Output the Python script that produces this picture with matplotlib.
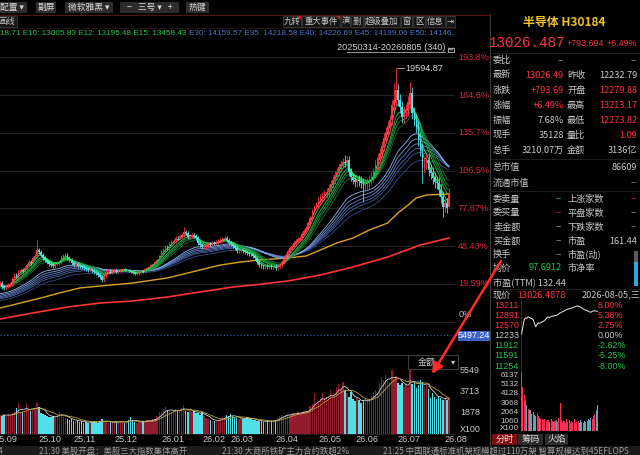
import numpy as np
import pandas as pd
import matplotlib
matplotlib.use("Agg")
import matplotlib.pyplot as plt
from matplotlib import transforms
from matplotlib.patches import Rectangle, Arc, Polygon

plt.rcParams['font.family'] = ['Noto Sans CJK SC', 'DejaVu Sans']

# ── Data ────────────────────────────────────────────────────────────────────
month_labels = ["25.09", "25.10", "25.11", "25.12", "26.01", "26.02",
                "26.03", "26.04", "26.05", "26.06", "26.07", "26.08"]
month_days = [22, 17, 20, 23, 20, 14, 22, 21, 18, 21, 23, 3]

# sessions before the visible window (only used to warm up the EMAs)
lead_closes = [6480, 6530, 6510, 6590, 6650, 6620, 6700, 6760, 6740, 6820,
               6880, 6850, 6930, 7000, 6980, 7060, 7120, 7090, 7180, 7250,
               7220, 7300, 7380, 7350, 7440, 7500, 7470, 7560, 7640, 7610,
               7700, 7780, 7750, 7840, 7920, 7890, 7980, 8060, 8150, 8240]

close_sep = [8319, 8160, 8213, 8266, 8055, 8002, 8108, 8160, 8213, 8477, 8688,
             8635, 8846, 8952, 8899, 9057, 9215, 9374, 9321, 9585, 9690, 10007]
close_oct = [9901, 9743, 9585, 9479, 9374, 9268, 9215, 9163, 9268, 9321, 9374,
             9637, 9690, 9743, 9585, 9479, 9321]
close_nov = [9215, 9268, 9163, 9150, 9110, 9057, 9004, 8952, 8970, 8899, 8846,
             8793, 8688, 8582, 8424, 8635, 8846, 8899, 8846, 8899]
close_dec = [8952, 8846, 8899, 8952, 9004, 8952, 8960, 8899, 8846, 8793, 8741,
             8750, 8846, 8899, 8880, 9004, 9057, 9110, 9215, 9268, 9374, 9479, 9690]
close_jan = [9901, 10007, 10165, 10140, 10323, 10429, 10481, 10640, 10620, 10745,
             10798, 10956, 10903, 10692, 10745, 10798, 10745, 10640, 10376, 10270]
close_feb = [10165, 10180, 10218, 10323, 10310, 10376, 10360, 10429, 10481, 10534,
             10587, 10640, 10534, 10376]
close_mar = [10323, 10218, 10112, 9954, 9970, 10007, 9954, 9901, 9848, 9796, 9780,
             9690, 9585, 9374, 9215, 9163, 9110, 9163, 9110, 9163, 9110, 9130]
close_apr = [9057, 9163, 9215, 9374, 9585, 9743, 9954, 10112, 10218, 10376, 10481,
             10587, 10640, 10851, 11009, 11167, 11431, 11695, 12064, 12275, 12433]
close_may = [12591, 12750, 12855, 12961, 13066, 13277, 13488, 13699, 13963, 14121,
             14385, 14543, 14649, 14596, 14754, 14121, 13857, 13699]
close_jun = [13594, 13699, 13646, 13541, 13383, 13488, 13541, 13699, 13857, 14068,
             14490, 14860, 15123, 15493, 15915, 16231, 16548, 16864, 17655, 17919, 18447]
close_jul = [17919, 17550, 17022, 17286, 17392, 17814, 18288, 17233, 16864, 16495,
             15810, 15282, 14385, 14596, 14754, 14227, 14068, 13805, 13594, 13541,
             13172, 12802, 12275]
close_aug = [12486, 12232.79, 13026.49]

last_open, last_high, last_low = 12279.88, 13213.17, 12273.82
wick_by_month = [110, 110, 80, 70, 110, 100, 90, 120, 200, 260, 330, 250]
spike_highs = {21: 10534, 93: 11220, 172: 15018, 196: 18816, 197: 19594.87, 204: 18869}
spike_lows = {181: 12539, 210: 13541, 220: 11747}

volumes = [1600, 1550, 1700, 1650, 1500, 1620, 1600, 1700, 1580, 1750, 1900,
           2200, 2660, 1900, 1850, 2000, 2650, 2100, 1950, 2050, 2200, 2700,
           2300, 1800, 1700, 1650, 1500, 1450, 1400, 1500, 1450, 1600, 1900,
           1700, 1450, 1350, 1250, 1200, 1300, 1100, 1050, 1150, 1000, 1100,
           950, 1000, 900, 1050, 980, 1100, 1000, 950, 1100, 1300, 1050, 1000,
           950, 1050, 900, 1000, 1050, 980, 1100, 1000, 950, 1050, 1200, 1400,
           1100, 1000, 950, 1000, 1050, 1100, 1000, 1150, 1200, 1100, 1250,
           1300, 1500, 1900, 1850, 2100, 2300, 1950, 2000, 1900, 2050, 2100,
           1950, 2050, 2200, 2450, 2000, 1900, 2000, 1850, 1950, 1800, 1750,
           1600, 1900, 1500, 1350, 1300, 1200, 1100, 1050, 1150, 1200, 1300,
           1450, 1350, 1600, 1550, 1700, 1500, 1400, 1350, 1300, 1350, 1250,
           1300, 1400, 1300, 1250, 1200, 1150, 1100, 1050, 1100, 1000, 1100,
           1050, 1150, 1100, 1050, 1200, 1350, 1550, 1650, 1500, 1600, 1700,
           1650, 1750, 1800, 1700, 1850, 1800, 1900, 1950, 2000, 1950, 2400,
           2600, 3540, 2500, 2700, 3000, 3540, 3100, 3200, 3000, 3800, 3300,
           3500, 4070, 4300, 3900, 4500, 3800, 3500, 3200, 3600, 3000, 2800,
           3100, 2900, 2700, 2900, 3000, 2800, 2950, 3300, 3600, 3800, 3550,
           4400, 4950, 4700, 5100, 4600, 4500, 5550, 4800, 5000, 4400, 4200,
           4400, 4070, 4300, 4100, 5640, 4300, 4400, 4000, 4200, 4680, 4500,
           4070, 4240, 3900, 3100, 3500, 3200, 3000, 3300, 3100, 2900, 3000,
           2930, 3100]

# yellow / red long averages, read at a few sessions
yellow_idx = [0, 3, 13, 23, 32, 42, 52, 68, 85, 101, 111, 121, 130, 144, 153,
              160, 168, 176, 184, 193, 198, 203, 207, 212, 223]
yellow_val = [6790, 6947, 7211, 7475, 7738, 8002, 8108, 8266, 8530, 8952, 9215,
              9374, 9479, 9585, 9690, 10007, 10376, 10640, 11062, 11431, 11958,
              12380, 12750, 12908, 12960]
red_idx = [0, 3, 19, 36, 52, 68, 85, 101, 117, 127, 144, 160, 176, 193, 209, 223]
red_val = [6320, 6367, 6683, 7000, 7211, 7316, 7527, 7791, 8055, 8160, 8371,
           8688, 9110, 9637, 10271, 10640]

short_spans = [3, 5, 8, 10, 12, 15]
long_spans = [30, 35, 40, 45, 50, 60]

pct_ticks = [193.8, 164.6, 135.7, 106.5, 77.67, 48.43, 19.59]
pct_tick_labels = ["193.8%", "164.6%", "135.7%", "106.5%", "77.67%", "48.43%", "19.59%"]
base_close = 6868.0
crosshair_price = 5497.24
vol_ticks = [5549, 3713, 1878]

# intraday (today)
intra_price = [12300, 12550, 12760, 12820, 12800, 12850, 12830, 12810, 12790, 12760,
               12640, 12530, 12600, 12660, 12640, 12670, 12690, 12700, 12740, 12790,
               12840, 12850, 12830, 12860, 12880, 12870, 12900, 12890, 12920, 12950,
               12980, 13000, 13020, 13040, 13060, 13090, 13100, 13110, 13120, 13140,
               13150, 13170, 13180, 13200, 13205, 13185, 13160, 13140, 13110, 13080,
               13070, 13050, 13030, 13010, 13000, 13030, 13040, 13050, 13040, 13026]
intra_vol = [6960, 4870, 4000, 3440, 2900, 2500, 2300, 2300, 1900, 2100,
             1800, 1700, 2000, 1700, 1500, 1300, 1400, 1200, 1300, 1100,
             1250, 1200, 1000, 1300, 1100, 1000, 1100, 1200, 1000, 1500,
             3100, 1200, 1000, 1100, 900, 1300, 1000, 1200, 950, 1100,
             1000, 1400, 900, 1000, 1100, 950, 1200, 1000, 900, 1100,
             1000, 1100, 1300, 1200, 1500, 1400, 1700, 1900, 2300, 2900]
intra_left = ["13211", "12891", "12570", "12233", "11912", "11591", "11254"]
intra_right = ["8.00%", "5.38%", "2.75%", "0.00%", "-2.62%", "-5.25%", "-8.00%"]
intra_vol_ticks = [6137, 5132, 4128, 3068, 2064, 1060]

# ── Colours ─────────────────────────────────────────────────────────────────
RED = "#ff3040"
CYAN = "#4fe0e8"
VRED = "#921c2e"
GRAY = "#c8c8c8"
GREEN_T = "#22c44a"
AX_RED = "#d8283c"
short_cols = ["#46ff70", "#32e45c", "#26c44e", "#1ea842", "#178c38", "#11722e"]
long_cols = ["#90b4f4", "#7898e0", "#6282cc", "#506eb6", "#40609e", "#324e88"]

W, H = 640, 455
fig = plt.figure(figsize=(6.4, 4.55), dpi=100, facecolor="black")


def px_axes(x0, y0, x1, y1, z=1):
    a = fig.add_axes([x0 / W, 1 - y1 / H, (x1 - x0) / W, (y1 - y0) / H], zorder=z)
    a.set_facecolor("none")
    a.set_axis_off()
    return a


def pct_price(pct):
    return base_close * (1 + pct / 100.0)


def py_price(py):
    # 19.59% sits on pixel row 284, one axis step (29.03%) is 37.8 px
    return pct_price(19.59 + (284 - py) / 1.302)


ui = px_axes(0, 0, W, H, z=0)
ui.set_xlim(0, W); ui.set_ylim(H, 0)
ov = px_axes(0, 0, W, H, z=5)
ov.set_xlim(0, W); ov.set_ylim(H, 0)

# ── Series prep ─────────────────────────────────────────────────────────────
closes = (close_sep + close_oct + close_nov + close_dec + close_jan + close_feb
          + close_mar + close_apr + close_may + close_jun + close_jul + close_aug)
n = len(closes)
idx = np.arange(n)
c = np.array(closes, dtype=float)
o = np.r_[lead_closes[-1], c[:-1]]
o[-1] = last_open
wick = np.array(wick_by_month, dtype=float)[np.repeat(np.arange(12), month_days)]
hi = np.maximum(o, c) + wick
lo = np.minimum(o, c) - wick
for k, v in spike_highs.items():
    hi[k] = v
for k, v in spike_lows.items():
    lo[k] = v
hi[-1], lo[-1] = last_high, last_low
up = c >= o
cols = np.where(up, RED, CYAN)

full = pd.Series(lead_closes + closes, dtype=float)
ema = {s: full.ewm(span=s, adjust=False).mean().to_numpy()[len(lead_closes):]
       for s in short_spans + long_spans}

xlo, xhi = 6 / 2.04, 461 / 2.04   # candle i sits at pixel -6 + 2.04*i

# ── Main price panel ────────────────────────────────────────────────────────
ax = px_axes(0, 40, 455, 355, z=1)
ax.set_xlim(xlo, xhi)
ax.set_ylim(py_price(355), py_price(40))
for p in pct_ticks + [pct_ticks[-1] - 29.03]:
    ax.axhline(pct_price(p), color="#262626", lw=0.7, zorder=0)
ax.axhline(crosshair_price, color="#3a58b0", lw=0.8, ls=(0, (1, 2)), zorder=1)

ax.plot(red_idx, red_val, color="#ff3434", lw=1.2, zorder=2)
ax.plot(yellow_idx, yellow_val, color="#dca224", lw=1.0, zorder=2)
for s, col in zip(long_spans[::-1], long_cols[::-1]):
    ax.plot(idx, ema[s], color=col, lw=0.6, zorder=2)
for s, col in zip(short_spans[::-1], short_cols[::-1]):
    ax.plot(idx, ema[s], color=col, lw=0.6, zorder=2)

ax.vlines(idx, lo, hi, colors=cols, lw=0.6, zorder=3)
ax.bar(idx, np.maximum(np.abs(c - o), 20), bottom=np.minimum(o, c), width=0.72,
       color=cols, lw=0, zorder=3)

pk = int(np.argmax(hi))
ax.plot([pk + 0.7, pk + 4.2], [hi[pk], hi[pk]], color="#bbbbbb", lw=0.6, zorder=4)
ax.text(pk + 4.5, hi[pk], f"{hi[pk]:.2f}", color="#d4d4d4", fontsize=6.6,
        family="Liberation Sans", va="center", ha="left", zorder=4)

tr_main = transforms.blended_transform_factory(ov.transData, ax.transData)
for p, lab in zip(pct_ticks, pct_tick_labels):
    ov.text(458, pct_price(p), lab, transform=tr_main, color=AX_RED, fontsize=6.6,
            family="Liberation Sans", va="center", ha="left")
ov.text(459, pct_price(0), "0%", transform=tr_main, color="#bbbbbb", fontsize=6.6,
        family="Liberation Sans", va="top", ha="left")
ov.add_patch(Rectangle((458, 330.5), 32, 10, fc="#3a62c8", ec="none", transform=ov.transData))
ov.text(474, crosshair_price, f"{crosshair_price:.2f}", transform=tr_main, color="white",
        fontsize=6.4, family="Liberation Sans", va="center", ha="center")

# ── Volume panel ────────────────────────────────────────────────────────────
av = px_axes(0, 355, 455, 433.5, z=1)
av.set_xlim(xlo, xhi)
av.set_ylim(0, 6862)
vol = np.array(volumes, dtype=float)
av.bar(idx, vol, width=0.72, color=np.where(up, VRED, CYAN), lw=0)
vs = pd.Series(vol)
av.plot(idx, vs.rolling(5).mean(), color="#d0d0d0", lw=0.6)
av.plot(idx, vs.rolling(10).mean(), color="#b8a238", lw=0.6)

tr_vol = transforms.blended_transform_factory(ov.transData, av.transData)
for v in vol_ticks:
    ov.text(460, v, str(v), transform=tr_vol, color=GRAY, fontsize=6.4,
            family="Liberation Sans", va="center", ha="left")
ov.text(460, 430, "X100", color=GRAY, fontsize=6.4, family="Liberation Sans",
        va="center", ha="left")

tr_date = transforms.blended_transform_factory(av.transData, ov.transData)
starts = np.r_[0, np.cumsum(month_days)[:-1]]
for s, lab in zip(starts, month_labels):
    ov.text(s, 440, lab, transform=tr_date, color=GRAY, fontsize=6.6,
            family="Liberation Sans", va="center", ha="left")

ov.add_patch(Rectangle((408, 355), 50, 14, fc="black", ec="#3c3c3c", lw=0.8))
ov.text(427, 362, "金额", color=GRAY, fontsize=6.4, va="center", ha="center")
ov.text(453, 362, "▾", color=GRAY, fontsize=6, family="DejaVu Sans",
        va="center", ha="center")

# panel borders
ui.plot([0, 455], [355, 355], color="#343434", lw=0.8)
ui.plot([0, 455], [433.8, 433.8], color="#262626", lw=0.6)
ui.plot([490, 490], [14, 446], color="#3a3a3a", lw=0.8)

# ── Header rows ─────────────────────────────────────────────────────────────
buttons = [("配置 ▾", -4, 27), ("副屏", 36, 56), ("微软雅黑 ▾", 65, 113),
           ("−   三号 ▾   +", 120, 179), ("热键", 186, 209)]
for lab, x0, x1 in buttons:
    ui.add_patch(Rectangle((x0, 1.5), x1 - x0, 11.5, fc="#2c2c2c", ec="none"))
    ov.text((x0 + x1) / 2, 7.4, lab, color="#d8d8d8", fontsize=6.3,
            family=["Noto Sans CJK SC", "DejaVu Sans"], va="center", ha="center")
ui.plot([0, 490], [14.5, 14.5], color="#5a1212", lw=0.8)
ui.plot([0, 455], [27.5, 27.5], color="#2a1010", lw=0.6)

tabs = [("画线", -3, 17), ("九转", 283, 301), ("重大事件", 302, 340), ("演", 341, 350),
        ("删", 351, 363), ("超级叠加", 364, 400), ("窗", 401, 412), ("区", 413, 425),
        ("信息", 426, 445), ("⇥", 446, 455)]
for lab, x0, x1 in tabs:
    ui.add_patch(Rectangle((x0, 16), x1 - x0, 10.5, fc="#161616", ec="#3a3a3a", lw=0.6))
    ov.text((x0 + x1) / 2, 21.4, lab, color="#c8c8c8", fontsize=6.0,
            family=["Noto Sans CJK SC", "DejaVu Sans"], va="center", ha="center")
for x1 in (301, 340):
    ov.add_patch(Polygon([(x1 - 4, 16), (x1, 16), (x1, 20)], closed=True, fc="#d02020", ec="none"))

ov.text(0, 33.5, "18.71 E10: 13005.83 E12: 13195.48 E15: 13458.43", color=GREEN_T,
        fontsize=5.9, family="Liberation Sans", va="center", ha="left")
ov.text(189, 33.5, "E30: 14159.57 E35: 14218.58 E40: 14226.69 E45: 14199.06 E50: 14146.",
        color="#4a74c4", fontsize=5.9, family="Liberation Sans", va="center", ha="left")

ov.text(445, 47, "20250314-20260805 (340)", color="#d0d0d0", fontsize=6.6,
        family="Liberation Sans", va="center", ha="right")
ov.plot([347, 445], [52, 52], color="#b0b0b0", lw=0.6)
ov.add_patch(Rectangle((448, 47.5), 6, 4, fc="none", ec="#c0c0c0", lw=0.6))
ov.add_patch(Arc((451, 47.5), 4, 5, theta1=0, theta2=180, ec="#c0c0c0", lw=0.6))

# ── Right quote panel ───────────────────────────────────────────────────────
ov.text(564, 22.5, "半导体 H30184", color="#f0c418", fontsize=8.6, fontweight="bold",
        va="center", ha="center")
ov.text(489, 43, "13026.487", color=RED, fontsize=10.2, family="Liberation Mono",
        va="center", ha="left")
ov.text(567, 43.5, "+793.694", color=RED, fontsize=6.4, family="Liberation Sans",
        va="center", ha="left")
ov.text(637, 43.5, "+6.49%", color=RED, fontsize=6.4, family="Liberation Sans",
        va="center", ha="right")

q_labels_l = ["委比", "最新", "涨跌", "涨幅", "振幅", "现手", "总手"]
q_values_l = ["--", "13026.49", "+793.69", "+6.49%", "7.68%", "35128", "3210.07万"]
q_colors_l = ["#8a8a8a", RED, RED, RED, GRAY, GRAY, GRAY]
q_labels_r = ["", "昨收", "开盘", "最高", "最低", "量比", "金额"]
q_values_r = ["--", "12232.79", "12279.88", "13213.17", "12273.82", "1.09", "3136亿"]
q_colors_r = ["#8a8a8a", GRAY, RED, RED, RED, RED, GRAY]
row_y = [60.5, 75, 90.5, 105.5, 120.5, 135.5, 150.5]
for y, a, b, ca, la, vb, cb in zip(row_y, q_labels_l, q_values_l, q_colors_l,
                                   q_labels_r, q_values_r, q_colors_r):
    ov.text(493, y, a, color=GRAY, fontsize=6.6, va="center", ha="left")
    ov.text(564, y, b, color=ca, fontsize=6.6, va="center", ha="right")
    ov.text(567, y, la, color=GRAY, fontsize=6.6, va="center", ha="left")
    ov.text(637, y, vb, color=cb, fontsize=6.6, va="center", ha="right")
ov.text(493, 167, "总市值", color=GRAY, fontsize=6.6, va="center", ha="left")
ov.text(637, 167, "86609", color=GRAY, fontsize=6.6, va="center", ha="right")
ov.text(493, 183, "流通市值", color=GRAY, fontsize=6.6, va="center", ha="left")
ov.text(637, 183, "--", color="#8a8a8a", fontsize=6.6, va="center", ha="right")

b_labels_l = ["委卖量", "委买量", "卖金额", "买金额", "换手", "均价"]
b_values_l = ["--", "--", "--", "--", "--", "97.6912"]
b_colors_l = ["#1fa8a0", "#c02030", "#8a8a8a", "#8a8a8a", "#8a8a8a", GREEN_T]
b_labels_r = ["上涨家数", "平盘家数", "下跌家数", "市盈", "市盈(动)", "市净率"]
b_values_r = ["--", "--", "--", "161.44", "", ""]
b_colors_r = ["#c02030", "#8a8a8a", "#1fa040", GRAY, GRAY, GRAY]
b_row_y = [199, 213, 227, 241, 254.5, 268]
for y, a, b, ca, la, vb, cb in zip(b_row_y, b_labels_l, b_values_l, b_colors_l,
                                   b_labels_r, b_values_r, b_colors_r):
    ov.text(493, y, a, color=GRAY, fontsize=6.6, va="center", ha="left")
    ov.text(562, y, b, color=ca, fontsize=6.6, va="center", ha="right")
    ov.text(567, y, la, color=GRAY, fontsize=6.6, va="center", ha="left")
    ov.text(637, y, vb, color=cb, fontsize=6.6, va="center", ha="right")
ov.text(493, 282, "市盈(TTM) 132.44", color=GRAY, fontsize=6.6, va="center", ha="left")
ov.add_patch(Rectangle((634, 251), 3.5, 11, fc="#5a5a5a", ec="none"))
ov.add_patch(Rectangle((634, 262), 3.5, 24, fc="#2ea6e0", ec="none"))

for y in (53, 159, 191, 288.5):
    ui.plot([490, 640], [y, y], color="#262626", lw=0.6)

ov.text(493, 295, "现价", color=GRAY, fontsize=6.6, va="center", ha="left")
ov.text(517, 295, "13026.4878", color=RED, fontsize=6.6, va="center", ha="left")
ov.text(640, 295, "2026-08-05,三", color=GRAY, fontsize=6.6, va="center", ha="right")

# ── Intraday mini chart ─────────────────────────────────────────────────────
ai = px_axes(521, 300, 598, 372, z=1)
ai.set_xlim(-0.5, len(intra_price) - 0.5)
ai.set_ylim(12233 - 36 * 32.3, 12233 + 36 * 32.3)
ai.plot(np.arange(len(intra_price)), intra_price, color="#e6e6e6", lw=0.7)

aiv = px_axes(521, 372, 598, 431.3, z=1)
aiv.set_xlim(-0.5, len(intra_vol) - 0.5)
aiv.set_ylim(0, 59.3 * 110)
ip = np.array(intra_price, dtype=float)
iup = np.r_[True, np.diff(ip) >= 0]
aiv.bar(np.arange(len(intra_vol)), intra_vol, width=0.8,
        color=np.where(iup, "#ff2e50", "#5aa8b8"), lw=0)
ui.plot([521, 521], [300, 431.3], color="#3a3a3a", lw=0.6)

tr_i = transforms.blended_transform_factory(ov.transData, ai.transData)
for lab_l, lab_r in zip(intra_left, intra_right):
    val = float(lab_l)
    colr = RED if val > 12233 else (GRAY if val == 12233 else GREEN_T)
    ov.text(519, val, lab_l, transform=tr_i, color=colr, fontsize=6.4,
            family="Liberation Sans", va="center", ha="right")
    ov.text(598, val, lab_r, transform=tr_i, color=colr, fontsize=6.4,
            family="Liberation Sans", va="center", ha="left")
tr_iv = transforms.blended_transform_factory(ov.transData, aiv.transData)
for v in intra_vol_ticks:
    ov.text(519, v, str(v), transform=tr_iv, color=GRAY, fontsize=5.9,
            family="Liberation Sans", va="center", ha="right")
ov.text(519, 428.5, "X100", color=GRAY, fontsize=5.9, family="Liberation Sans",
        va="center", ha="right")

for lab, x0, x1, fc, tc in [("分时", 492, 517, "#7e0c10", "#f0d8d8"),
                            ("筹码", 518, 543, "#2c2c2c", "#d8d8d8"),
                            ("火焰", 545, 568, "#2c2c2c", "#d8d8d8")]:
    ui.add_patch(Rectangle((x0, 433.5), x1 - x0, 11.5, fc=fc, ec="none"))
    ov.text((x0 + x1) / 2, 439.3, lab, color=tc, fontsize=6.6, va="center", ha="center")

# ── News ticker ─────────────────────────────────────────────────────────────
ui.add_patch(Rectangle((0, 446), W, 9, fc="#1b1b1b", ec="none"))
news = [(-2, "4"), (39, "21:30 美股开盘：美股三大指数集体高开"),
        (222, "21:30 大商所铁矿主力合约跌超2%"),
        (383, "21:25 中国联通标准机架规模超过110万架 智算规模达到45EFLOPS")]
for x, t in news:
    ov.text(x, 451, t, color="#9a9a9a", fontsize=6.0, va="center", ha="left")

# ── Hand-drawn red arrow ────────────────────────────────────────────────────
ov.annotate("", xy=(432, 374), xytext=(501, 261),
            arrowprops=dict(arrowstyle="-|>", color="#ff2a2a", lw=1.8,
                            mutation_scale=16, shrinkA=0, shrinkB=0))

fig.savefig("out.png", dpi=100, facecolor="black")
